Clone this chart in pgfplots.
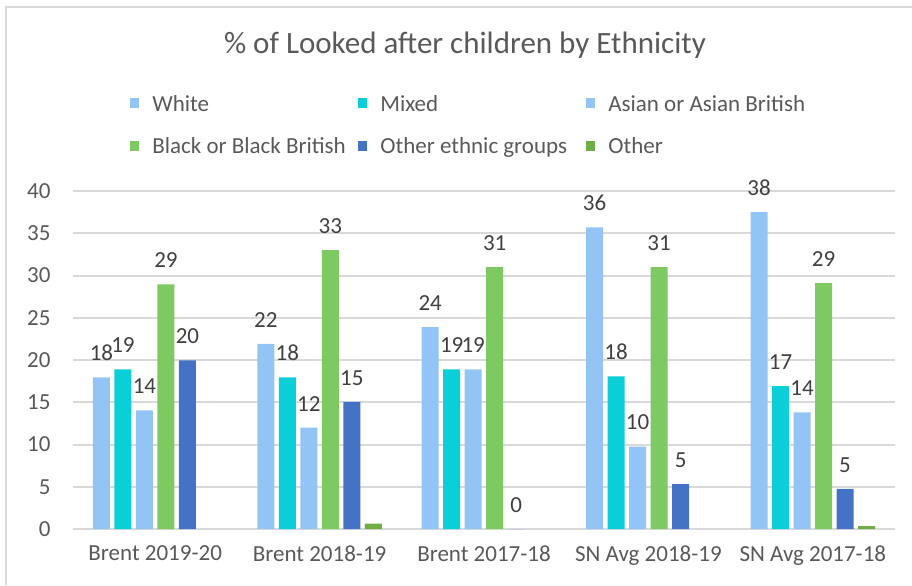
\documentclass[border=0pt]{standalone}
\usepackage{pgfplots}
\pgfplotsset{compat=1.18}
\usepackage{fontspec}
\setmainfont{Carlito}
\definecolor{cWhite}{HTML}{92C5F5}
\definecolor{cMixed}{HTML}{0ACFD8}
\definecolor{cAsian}{HTML}{92C5F5}
\definecolor{cBlack}{HTML}{7DCA62}
\definecolor{cOeth}{HTML}{4472C4}
\definecolor{cOther}{HTML}{70AD47}
\definecolor{gridc}{HTML}{D9D9D9}
\definecolor{txtc}{HTML}{595959}
\definecolor{lblc}{HTML}{404040}
\begin{document}
\begin{tikzpicture}
\path[use as bounding box] (-36.5pt,-28pt) rectangle (419.5pt,264.5pt);
\draw[gridc,line width=0.75pt] (-33.5pt,-28pt) -- (-33.5pt,261pt) -- (419.5pt,261pt);
\node[text=txtc,font=\fontsize{15.5}{18}\selectfont] at (196pt,242pt) {\% of Looked after children by Ethnicity};
\begin{axis}[
 at={(0pt,0pt)}, anchor=south west, scale only axis,
 width=411pt, height=169pt,
 ybar=2.25pt, bar width=8.5pt,
 xmin=-0.5, xmax=4.5, ymin=0, ymax=40,
 xtick={0,1,2,3,4},
 xticklabels={Brent 2019-20,Brent 2018-19,Brent 2017-18,SN Avg 2018-19,SN Avg 2017-18},
 ytick={0,5,...,40},
 major tick length=0,
 axis line style={draw=none},
 ymajorgrids, grid style={color=gridc, line width=1pt},
 /pgf/number format/assume math mode=true,
 tick label style={text=txtc, font=\fontsize{11.5}{14}\selectfont},
 yticklabel style={xshift=-7.7pt},
 xticklabel style={yshift=-5pt},
 legend columns=3,
 legend cell align=left,
 legend image code/.code={\fill[#1] (0pt,-2.5pt) rectangle (4.5pt,2.5pt);},
 legend style={at={(axis description cs:0.0693,1.295)}, anchor=north west, draw=none, fill=none,
   inner sep=0pt, row sep=10pt, column sep=0pt, text=txtc,
   font=\fontsize{11.5}{14}\selectfont, nodes={inner sep=0pt}},
 lab/.style={nodes near coords, point meta=explicit,
   every node near coord/.append style={text=lblc, font=\fontsize{11.5}{14}\selectfont, yshift=4.7pt}},
]
\addplot[fill=cWhite, draw=none, lab] coordinates {(0,17.95)[18] (1,21.9)[22] (2,23.9)[24] (3,35.7)[36] (4,37.5)[38]};
\addlegendentry{\hspace{6.5pt}\makebox[103pt][l]{White\strut}}
\addplot[fill=cMixed, draw=none, lab] coordinates {(0,18.9)[19] (1,17.95)[18] (2,18.9)[19] (3,18.05)[18] (4,16.9)[17]};
\addlegendentry{\hspace{6.5pt}\makebox[103pt][l]{Mixed\strut}}
\addplot[fill=cAsian, draw=none, lab] coordinates {(0,14.05)[14] (1,12.0)[12] (2,18.9)[19] (3,9.75)[10] (4,13.8)[14]};
\addlegendentry{\hspace{6.5pt}\makebox[103pt][l]{Asian or Asian British\strut}}
\addplot[fill=cBlack, draw=none, lab] coordinates {(0,28.95)[29] (1,33.0)[33] (2,31.0)[31] (3,31.0)[31] (4,29.1)[29]};
\addlegendentry{\hspace{6.5pt}\makebox[103pt][l]{Black or Black British\strut}}
\addplot[fill=cOeth, draw=none, lab] coordinates {(0,19.95)[20] (1,15.05)[15] (2,0)[0] (3,5.3)[5] (4,4.75)[5]};
\addlegendentry{\hspace{6.5pt}\makebox[103pt][l]{Other ethnic groups\strut}}
\addplot[fill=cOther, draw=none] coordinates {(1,0.65) (4,0.35)};
\addlegendentry{\hspace{6.5pt}\makebox[103pt][l]{Other\strut}}
\end{axis}
\end{tikzpicture}
\end{document}
